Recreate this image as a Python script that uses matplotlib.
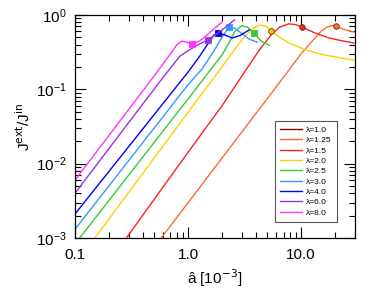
import matplotlib
matplotlib.use("Agg")
import matplotlib.pyplot as plt
from matplotlib.ticker import LogLocator, FixedLocator, FixedFormatter, NullFormatter

plt.rcParams["font.family"] = ["Liberation Sans", "DejaVu Sans"]

lambdas = ["1.0", "1.25", "1.5", "2.0", "2.5", "3.0", "4.0", "6.0", "8.0"]
colors = ["#8b0000", "#ff6a30", "#ff2020", "#ffd000", "#33cc33",
          "#3399ff", "#0000ff", "#9933dd", "#ff33ff"]

# a-hat [1e-3] and J_ext/J_in
a_10 = []
J_10 = []
a_125 = [0.58, 2.0, 5.0, 7.8, 10.0, 12.5, 15.0, 17.0, 19.0, 20.4, 24.0, 29.3]
J_125 = [0.001, 0.0119, 0.074, 0.18, 0.30, 0.44, 0.60, 0.69, 0.72, 0.70, 0.64, 0.59]
a_15 = [0.285, 1.0, 2.0, 4.27, 5.5, 6.5, 7.8, 9.0, 10.2, 13.0, 17.7, 23.0, 29.3]
J_15 = [0.001, 0.0142, 0.060, 0.337, 0.55, 0.69, 0.76, 0.74, 0.69, 0.58, 0.49, 0.45, 0.42]
a_20 = [0.15, 1.0, 1.9, 2.85, 3.5, 4.0, 4.45, 5.0, 5.44, 6.5, 7.8, 11.1, 16.0, 22.0, 29.3]
J_20 = [0.001, 0.049, 0.18, 0.42, 0.60, 0.70, 0.73, 0.69, 0.61, 0.50, 0.42, 0.337, 0.29, 0.265, 0.248]
a_25 = [0.11, 1.0, 2.0, 2.3, 2.6, 3.0, 3.4, 3.85, 4.4, 5.23]
J_25 = [0.001, 0.074, 0.29, 0.42, 0.60, 0.72, 0.68, 0.57, 0.45, 0.39]
a_30 = [0.1, 1.0, 1.34, 1.7, 2.0, 2.3, 2.6, 3.0, 3.5, 4.09]
J_30 = [0.00131, 0.115, 0.19, 0.33, 0.50, 0.69, 0.66, 0.56, 0.47, 0.43]
a_40 = [0.1, 1.0, 1.25, 1.5, 1.7, 1.86, 2.1, 2.47, 2.9, 3.48]
J_40 = [0.0021, 0.17, 0.27, 0.41, 0.54, 0.57, 0.54, 0.49, 0.53, 0.63]
a_60 = [0.1, 0.6, 0.85, 1.0, 1.2, 1.51, 1.8, 2.2, 2.57]
J_60 = [0.004, 0.144, 0.28, 0.33, 0.39, 0.465, 0.56, 0.70, 0.86]
a_80 = [0.1, 0.5, 0.7, 0.8, 0.88, 0.98, 1.09, 1.25, 1.5, 1.75, 2.0]
J_80 = [0.006, 0.15, 0.30, 0.40, 0.445, 0.43, 0.41, 0.44, 0.55, 0.68, 0.80]

# marked points (circle for low lambda, square otherwise)
mark_a = [None, 20.4, 10.2, 5.44, 3.85, 2.3, 1.86, 1.51, 1.09]
mark_J = [None, 0.70, 0.69, 0.61, 0.57, 0.69, 0.57, 0.465, 0.41]
mark_sym = [None, "o", "o", "o", "s", "s", "s", "s", "s"]

curves_a = [a_10, a_125, a_15, a_20, a_25, a_30, a_40, a_60, a_80]
curves_J = [J_10, J_125, J_15, J_20, J_25, J_30, J_40, J_60, J_80]

fig = plt.figure(figsize=(3.74, 2.99), dpi=100)
ax = fig.add_axes([0.2005, 0.204, 0.7485, 0.746])

for i in range(len(lambdas)):
    ax.plot(curves_a[i], curves_J[i], color=colors[i], linewidth=1.0,
            label="\u03bb=" + lambdas[i])
    if mark_a[i] is not None:
        ax.plot(mark_a[i], mark_J[i], marker=mark_sym[i], color=colors[i],
                markersize=4, markeredgecolor="#603000" if mark_sym[i] == "o" else colors[i],
                markeredgewidth=0.6, linestyle="none")

ax.set_xscale("log")
ax.set_yscale("log")
ax.set_xlim(0.1, 30)
ax.set_ylim(1e-3, 1)

ax.xaxis.set_major_locator(FixedLocator([0.1, 1.0, 10.0]))
ax.xaxis.set_major_formatter(FixedFormatter(["0.1", "1.0", "10.0"]))
ax.xaxis.set_minor_locator(LogLocator(base=10, subs=range(2, 10)))
ax.xaxis.set_minor_formatter(NullFormatter())
ax.yaxis.set_minor_locator(LogLocator(base=10, subs=range(2, 10)))
ax.yaxis.set_minor_formatter(NullFormatter())

ax.tick_params(which="both", direction="in", top=True, right=True, labelsize=11)
ax.tick_params(which="major", length=8, width=0.8)
ax.tick_params(which="minor", length=4, width=0.8)
ax.tick_params(axis="x", which="major", pad=7)
ax.tick_params(axis="y", which="major", pad=6)
for s in ax.spines.values():
    s.set_linewidth(0.9)

ax.set_xlabel("\u00e2 [10$^{-3}$]", fontsize=11, labelpad=4)
ax.set_ylabel("J$^{\\mathrm{ext}}$/J$^{\\mathrm{in}}$", fontsize=11, labelpad=2)

leg = ax.legend(loc="lower right", bbox_to_anchor=(0.95, 0.055), fontsize=6,
                handlelength=2.6, labelspacing=0.3, fancybox=False,
                framealpha=1, borderpad=0.6, handletextpad=0.5)
leg.get_frame().set_edgecolor("#555555")
leg.get_frame().set_linewidth(0.8)

fig.savefig("out.png", dpi=100)
